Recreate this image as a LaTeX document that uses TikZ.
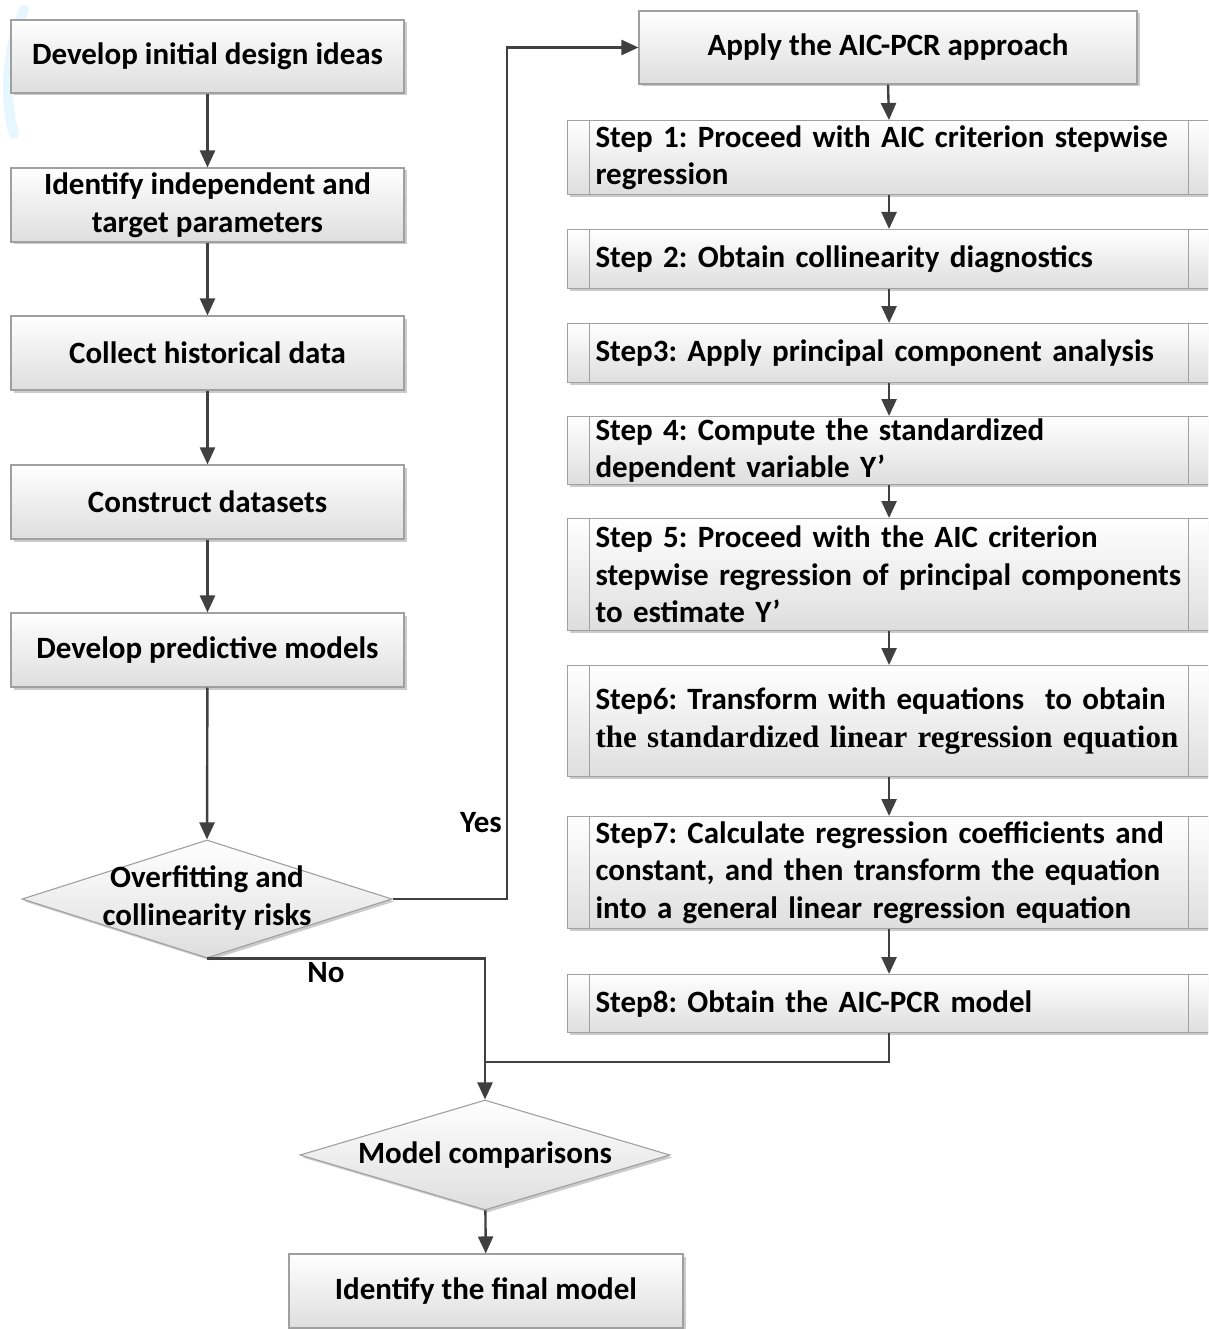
\documentclass[tikz,border=0pt]{standalone}
\usepackage{fontspec}
\setmainfont{Carlito}
\newfontfamily\timesbold{Liberation Serif}
\usetikzlibrary{shapes.geometric,arrows.meta,shadows}
\definecolor{linec}{HTML}{404040}
\definecolor{boxline}{HTML}{A0A0A0}
\definecolor{wmark}{HTML}{E6F7FF}
\tikzset{
  base/.style={draw=boxline, line width=1.1pt, top color=white, bottom color=black!13,
    drop shadow={shadow xshift=2.5pt, shadow yshift=-2.5pt, fill=black!40, opacity=0.5},
    font=\fontsize{31}{37.5}\selectfont\bfseries\frenchspacing, text=black, inner sep=0pt},
  lbox/.style={base, minimum width=393pt, align=center},
  stepbox/.style={base, anchor=north west, minimum width=643pt, text width=587pt, inner xsep=28pt, align=left,
    path picture={\draw[boxline, line width=1.1pt]
      ([xshift=22pt]path picture bounding box.north west) -- ([xshift=22pt]path picture bounding box.south west)
      ([xshift=-22pt]path picture bounding box.north east) -- ([xshift=-22pt]path picture bounding box.south east);}},
  dshape/.style={base, diamond, inner sep=0pt},
  dtext/.style={font=\fontsize{31}{37.5}\selectfont\bfseries, align=center, inner sep=0pt},
  arr/.style={draw=linec, line width=2.4pt, -{Triangle[length=17pt,width=15pt]}},
  conn/.style={draw=linec, line width=2.4pt},
  lab/.style={font=\fontsize{31}{34}\selectfont\bfseries, inner sep=0pt}
}
\begin{document}
\begin{tikzpicture}[x=1pt,y=-1pt]
\useasboundingbox (0,0) rectangle (1208,1329);
\clip (0,0) rectangle (1208,1329);
\fill[white] (0,0) rectangle (1208,1329);
% faint watermark
\draw[wmark, line width=10pt, line cap=round] (24,10) .. controls (6,50) and (4,100) .. (14,134);

% left column
\node[lbox, minimum height=73pt] (b1) at (207.5,56.5) {Develop initial design ideas};
\node[lbox, minimum height=74pt] (b2) at (207.5,205) {Identify independent and\\target parameters};
\node[lbox, minimum height=74pt] (b3) at (207.5,353) {Collect historical data};
\node[lbox, minimum height=74pt] (b4) at (207.5,502) {Construct datasets};
\node[lbox, minimum height=74pt] (b5) at (207.5,650) {Develop predictive models};

\node[dshape, minimum width=370pt, minimum height=118pt] (d1) at (207,899) {};
\node[dtext] (d1t) at (207,898) {Overfitting and\\collinearity risks};

% right column
\node[lbox, minimum width=498pt, minimum height=73pt] (ap) at (888,47.5) {Apply the AIC-PCR approach};
\node[stepbox, minimum height=74pt] (s1) at (567,120) {Step 1: Proceed with AIC criterion stepwise\\regression};
\node[stepbox, minimum height=59pt] (s2) at (567,229) {Step 2: Obtain collinearity diagnostics};
\node[stepbox, minimum height=59pt] (s3) at (567,323) {Step3: Apply principal component analysis};
\node[stepbox, minimum height=68pt] (s4) at (567,416) {Step 4: Compute the standardized\\dependent variable Y\kern1pt'};
\node[stepbox, minimum height=112pt] (s5) at (567,518) {Step 5: Proceed with the AIC criterion\\stepwise regression of principal components\\to estimate Y\kern1pt'};
\node[stepbox, minimum height=111pt] (s6) at (567,665) {Step6: Transform with equations\ \ to obtain\\{\timesbold\bfseries the standardized linear regression equation}};
\node[stepbox, minimum height=112pt] (s7) at (567,816) {Step7: Calculate regression coefficients and\\constant, and then transform the equation\\into a general linear regression equation};
\node[stepbox, minimum height=58pt] (s8) at (567,974) {Step8: Obtain the AIC-PCR model};

% bottom
\node[dshape, minimum width=370pt, minimum height=110pt] (d2) at (485,1155) {};
\node[dtext] (d2t) at (485,1155) {Model comparisons};
\node[lbox, minimum width=394pt, minimum height=74pt] (fin) at (486,1291) {Identify the final model};

% connectors
\draw[arr] (b1) -- (b2);
\draw[arr] (b2) -- (b3);
\draw[arr] (b3) -- (b4);
\draw[arr] (b4) -- (b5);
\draw[arr] (b5) -- (d1.north);
\coordinate (yc) at (507,899);
\draw[arr] (d1.east) -- (yc) |- (ap.west);
\draw[arr] (ap.south) -- (s1.north);
\draw[arr] (s1) -- (s2);
\draw[arr] (s2) -- (s3);
\draw[arr] (s3) -- (s4);
\draw[arr] (s4) -- (s5);
\draw[arr] (s5) -- (s6);
\draw[arr] (s6) -- (s7);
\draw[arr] (s7) -- (s8);
\coordinate (jn) at (485,1062);
\draw[conn] (s8.south) |- (jn);
\draw[arr] (d1.south) -| (d2.north);
\draw[arr] (d2) -- (fin);

\node[lab, anchor=east] (yes) at (502,823) {Yes};
\node[lab] (no) at (326,973) {No};
\end{tikzpicture}
\end{document}
